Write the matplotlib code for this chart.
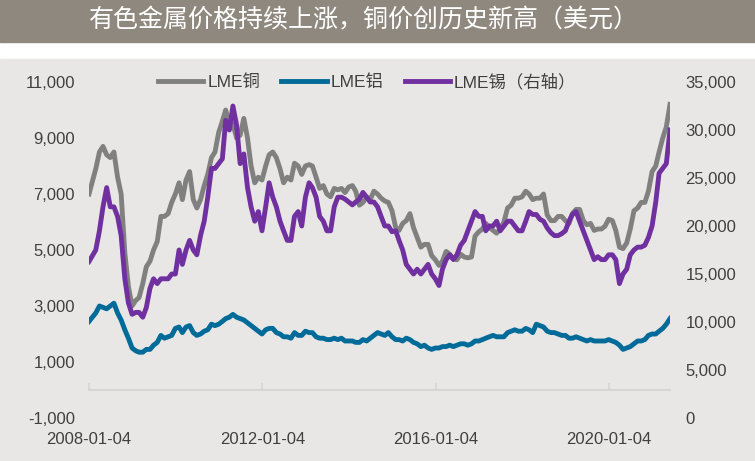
import pandas as pd
import numpy as np
import matplotlib.pyplot as plt
from matplotlib.patches import Rectangle
from matplotlib.ticker import FuncFormatter

plt.rcParams['font.family'] = ['Liberation Sans', 'Noto Sans CJK SC']

# monthly values, 2008-01 .. 2021-05 (USD/t)
copper = [7000, 7900, 8500, 8700, 8400, 8300, 8500, 7600, 7000, 4900, 3700, 3000,
          3200, 3300, 3800, 4400, 4600, 5000, 5300, 6200, 6200, 6300, 6700, 7000,
          7400, 6800, 7500, 7800, 6800, 6500, 6800, 7300, 7700, 8300, 8500, 9200,
          9600, 10000, 9500, 9500, 9000, 9100, 9700, 9000, 8000, 7400, 7600, 7500,
          8000, 8400, 8500, 8300, 7900, 7400, 7600, 7500, 8100, 8000, 7700, 8000,
          8050, 8000, 7600, 7200, 7300, 7000, 6900, 7200, 7150, 7200, 7050, 7250,
          7300, 7100, 6600, 6700, 6900, 6800, 7100, 7000, 6850, 6750, 6700, 6400,
          5800, 5700, 5950, 6050, 6300, 5800, 5450, 5100, 5200, 5200, 4800, 4650,
          4450, 4600, 4950, 4850, 4700, 4650, 4850, 4750, 4720, 4750, 5500, 5650,
          5750, 5950, 5800, 5700, 5600, 5750, 6000, 6500, 6600, 6850, 6850, 6900,
          7100, 7000, 6800, 6850, 6850, 7000, 6250, 6050, 6050, 6200, 6200, 6050,
          5950, 6300, 6450, 6450, 6050, 5900, 5950, 5700, 5750, 5750, 5850, 6100,
          6050, 5700, 5100, 5050, 5250, 5750, 6400, 6500, 6700, 6700, 7100, 7800,
          8000, 8500, 9000, 9400, 10200]

aluminium = [2450, 2750, 3000, 2950, 2900, 3000, 3100, 2750, 2500, 2150, 1850, 1500,
             1400, 1350, 1350, 1450, 1450, 1600, 1700, 1950, 1850, 1900, 1950, 2200,
             2250, 2050, 2250, 2300, 2050, 1950, 2000, 2100, 2150, 2350, 2300, 2350,
             2450, 2550, 2600, 2700, 2600, 2550, 2500, 2400, 2300, 2200, 2100, 2000,
             2150, 2200, 2200, 2050, 2000, 1900, 1900, 1850, 2050, 1950, 1950, 2100,
             2050, 2050, 1900, 1850, 1850, 1800, 1800, 1850, 1800, 1850, 1750, 1750,
             1750, 1700, 1700, 1800, 1750, 1850, 1950, 2050, 2000, 1950, 2050, 1900,
             1800, 1800, 1750, 1850, 1800, 1700, 1650, 1550, 1600, 1500, 1450, 1500,
             1500, 1550, 1550, 1600, 1550, 1600, 1650, 1650, 1600, 1650, 1750, 1750,
             1800, 1850, 1900, 1950, 1900, 1900, 1900, 2050, 2100, 2150, 2100, 2100,
             2200, 2150, 2050, 2350, 2300, 2250, 2100, 2050, 2050, 2000, 1950, 1950,
             1850, 1850, 1900, 1850, 1800, 1750, 1800, 1750, 1750, 1750, 1750, 1800,
             1750, 1700, 1600, 1450, 1500, 1550, 1650, 1750, 1750, 1800, 1950, 2000,
             2000, 2100, 2200, 2350, 2550]

tin = [16300, 17500, 19500, 22000, 24000, 22000, 22000, 21000, 19000, 14500, 12000, 10800,
       11000, 11000, 10500, 11500, 13500, 14500, 14000, 14500, 14500, 14500, 15000, 15000,
       17500, 16000, 17500, 18500, 17500, 17000, 19000, 20500, 23000, 26000, 26000, 26500,
       27000, 31000, 30000, 32500, 30500, 26500, 27500, 24000, 22000, 20500, 21500, 19500,
       22000, 24500, 23000, 22000, 20500, 19500, 18500, 18500, 21000, 21500, 20000, 23000,
       24500, 24000, 23000, 21000, 20500, 19500, 19500, 22000, 23000, 23000, 22800, 22500,
       22200, 22500, 22800, 23500, 23000, 22500, 22500, 22000, 21000, 20000, 20000, 19400,
       19500, 18500, 17500, 16000, 15500, 15000, 15500, 15000, 15500, 16000, 15000, 14500,
       13800, 15500, 16500, 17000, 16500, 17000, 18000, 18500, 19500, 20500, 21500, 21000,
       21000, 19500, 20000, 20000, 20500, 19500, 20000, 20500, 20500, 20000, 19500, 19500,
       20500, 21500, 21200, 21200, 20700, 20500, 19800, 19300, 19000, 19000, 19200, 19500,
       20500, 21200, 21500, 20500, 19500, 18500, 17500, 16500, 16800, 16500, 16500, 17000,
       17000, 16500, 14000, 15000, 15500, 17000, 17500, 17800, 17800, 18000, 18800, 20000,
       22500, 25500, 26000, 26500, 30000]

dates = pd.date_range('2008-01-04', periods=len(copper), freq='MS')
dates = pd.DatetimeIndex([pd.Timestamp('2008-01-04')] + list(dates[1:]))
tick_dates = pd.to_datetime(['2008-01-04', '2012-01-04', '2016-01-04', '2020-01-04'])

left_ticks = list(range(-1000, 11001, 2000))
right_ticks = list(range(0, 35001, 5000))

bg = '#e8e7e5'
txt = '#404040'

fig = plt.figure(figsize=(7.55, 4.61), dpi=100)
fig.patch.set_facecolor('white')
# title bar and grey panel
fig.add_artist(Rectangle((0, 1 - 42 / 461), 1, 42 / 461, transform=fig.transFigure,
                         color='#8f887e', zorder=0))
fig.add_artist(Rectangle((0, 0), 1, (461 - 59) / 461, transform=fig.transFigure,
                         color=bg, zorder=0))
fig.text(0.482, 1 - 20 / 461, '有色金属价格持续上涨，铜价创历史新高（美元）',
         ha='center', va='center', color='white', fontsize=18,
         family=['Noto Sans CJK SC'])

ax = fig.add_axes([89 / 755, 43 / 461, 581 / 755, 336 / 461])
ax.set_facecolor(bg)
l1, = ax.plot(dates, copper, color='#808080', lw=3.5, label='LME铜')
l2, = ax.plot(dates, aluminium, color='#006b99', lw=3.5, label='LME铝')
ax.set_ylim(-1000, 11000)
ax.set_xlim(dates[0], dates[-1])
ax.set_yticks(left_ticks)
ax.yaxis.set_major_formatter(FuncFormatter(lambda v, p: f'{int(v):,}'))

ax2 = ax.twinx()
l3, = ax2.plot(dates, tin, color='#7030a0', lw=3.5, label='LME锡（右轴）')
ax2.set_ylim(0, 35000)
ax2.set_yticks(right_ticks)
ax2.yaxis.set_major_formatter(FuncFormatter(lambda v, p: f'{int(v):,}'))

for a in (ax, ax2):
    for s in ['top', 'left', 'right', 'bottom']:
        a.spines[s].set_visible(False)

# x axis line sits at zero, labels stay at the bottom
ax.spines['bottom'].set_visible(True)
ax.spines['bottom'].set_position(('data', 0))
ax.spines['bottom'].set_color('#d6d6d6')
ax.spines['bottom'].set_linewidth(1.5)
ax.set_xticks(tick_dates)
ax.set_xticklabels([d.strftime('%Y-%m-%d') for d in tick_dates])
ax.tick_params(axis='x', direction='in', length=5, width=1.2, color='#d6d6d6',
               pad=30, labelsize=12, labelcolor=txt)
ax.tick_params(axis='y', length=0, pad=10, labelsize=12, labelcolor=txt)
ax2.tick_params(axis='y', length=0, pad=11, labelsize=12, labelcolor=txt)

leg = ax2.legend(handles=[l1, l2, l3], loc='center', bbox_to_anchor=(0.479, 1.0),
                 ncol=3, frameon=False, fontsize=12.5, handlelength=2.6,
                 handletextpad=0.25, columnspacing=1.2)
for t in leg.get_texts():
    t.set_color(txt)

fig.savefig('out.png', dpi=100, facecolor=fig.get_facecolor())
